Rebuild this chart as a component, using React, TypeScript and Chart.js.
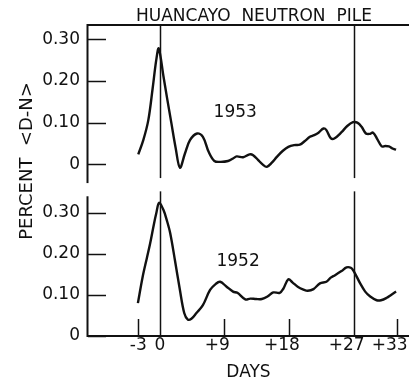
import React, { useEffect, useRef } from 'react';
import { Chart, registerables } from 'chart.js';

Chart.register(...registerables);

const TITLE = 'HUANCAYO  NEUTRON  PILE';
const Y_TITLE = 'PERCENT  <D-N>';
const X_TITLE = 'DAYS';

const panelLabels = ['1953', '1952'];

const days1953 = [-3, -2.3, -1.6, -1.0, -0.5, -0.15, 0.5, 1.0, 1.6, 2.2, 2.8, 3.5, 4.2, 5.2, 6.0, 6.8, 7.6, 8.5, 9.5, 10.2, 10.7, 11.6, 12.5, 13.0, 13.7, 14.3, 14.9, 15.6, 16.3, 17.1, 17.9, 18.7, 19.5, 20.2, 20.9, 21.5, 22.1, 22.8, 23.2, 23.8, 24.3, 25.3, 26.1, 26.9, 27.5, 28.1, 28.7, 29.2, 29.7, 30.3, 30.9, 31.4, 31.9, 32.4, 32.9];
const pct1953 = [0.024, 0.058, 0.106, 0.182, 0.25, 0.278, 0.212, 0.16, 0.1, 0.04, -0.008, 0.026, 0.058, 0.074, 0.066, 0.03, 0.008, 0.006, 0.008, 0.014, 0.019, 0.017, 0.024, 0.022, 0.01, 0.0, -0.006, 0.004, 0.018, 0.032, 0.042, 0.046, 0.047, 0.056, 0.066, 0.07, 0.076, 0.086, 0.082, 0.063, 0.062, 0.077, 0.092, 0.101, 0.1, 0.09, 0.074, 0.073, 0.076, 0.06, 0.043, 0.044, 0.043, 0.038, 0.035];

const days1952 = [-3.05, -2.4, -1.8, -1.35, -0.8, -0.5, -0.1, 0.5, 1.0, 1.45, 2.1, 2.8, 3.4, 3.9, 4.4, 5.1, 6.0, 7.0, 7.8, 8.4, 9.3, 10.2, 10.8, 11.9, 12.6, 13.4, 14.2, 15.0, 15.8, 16.7, 17.2, 17.9, 18.5, 19.2, 20.0, 20.6, 21.4, 22.3, 23.2, 23.8, 24.4, 25.3, 26.0, 26.6, 27.0, 27.9, 28.6, 29.3, 30.2, 30.8, 31.6, 32.2, 32.9];
const pct1952 = [0.08, 0.143, 0.19, 0.225, 0.274, 0.298, 0.324, 0.307, 0.28, 0.25, 0.185, 0.112, 0.056, 0.04, 0.042, 0.056, 0.075, 0.112, 0.127, 0.132, 0.12, 0.108, 0.105, 0.089, 0.091, 0.09, 0.09, 0.096, 0.106, 0.105, 0.115, 0.138, 0.13, 0.12, 0.113, 0.11, 0.114, 0.128, 0.132, 0.142, 0.148, 0.158, 0.167, 0.166, 0.158, 0.128, 0.108, 0.096, 0.087, 0.087, 0.093, 0.1, 0.108];

const xTickDays = [-3, 0, 9, 18, 27, 33];
const xTickLabels = ['-3', '0', '+9', '+18', '+27', '+33'];
const markerDays = [0, 27];
const yTickValues = [0, 0.1, 0.2, 0.3];
const yTickLabels = ['0', '0.10', '0.20', '0.30'];

const FONT = '"DejaVu Sans", sans-serif';
const INK = '#111';

function seg(ctx: CanvasRenderingContext2D, x1: number, y1: number, x2: number, y2: number, w: number) {
  ctx.lineWidth = w;
  ctx.beginPath();
  ctx.moveTo(x1, y1);
  ctx.lineTo(x2, y2);
  ctx.stroke();
}

const decor = {
  id: 'decor',
  beforeDatasetsDraw(chart: any) {
    const { ctx, chartArea: ca, scales } = chart;
    const x = scales.x;
    const yt = scales.yTop;
    const yb = scales.yBot;
    ctx.save();
    ctx.strokeStyle = INK;
    ctx.fillStyle = INK;
    // top frame line
    seg(ctx, ca.left - 1, ca.top + 1, ca.right, ca.top + 1, 2);
    // left axes
    seg(ctx, ca.left - 0.5, ca.top, ca.left - 0.5, yt.getPixelForValue(-0.045), 2);
    seg(ctx, ca.left - 0.5, yb.getPixelForValue(0.34), ca.left - 0.5, yb.getPixelForValue(0) + 1, 2);
    // bottom axis
    const yb0 = yb.getPixelForValue(0);
    seg(ctx, ca.left - 1, yb0, ca.right, yb0, 2);
    // marker lines
    markerDays.forEach((d) => {
      const px = Math.round(x.getPixelForValue(d)) + 0.5;
      seg(ctx, px, ca.top, px, yt.getPixelForValue(-0.033), 1.5);
      seg(ctx, px, yb.getPixelForValue(0.352), px, yb0, 1.5);
    });
    // y ticks inward
    [yt, yb].forEach((s) => {
      yTickValues.forEach((v) => {
        const py = Math.round(s.getPixelForValue(v)) + 0.5;
        seg(ctx, ca.left, py, ca.left + 18, py, 1.5);
      });
    });
    // x ticks inward (bottom panel)
    xTickDays.forEach((d) => {
      if (markerDays.includes(d)) return;
      const px = Math.round(x.getPixelForValue(d)) + 0.5;
      seg(ctx, px, yb0, px, yb0 - 17, 1.5);
    });
    // x tick labels
    ctx.font = '17px ' + FONT;
    ctx.textBaseline = 'alphabetic';
    xTickDays.forEach((d, i) => {
      const lab = xTickLabels[i];
      const px = x.getPixelForValue(d);
      if (lab.startsWith('+')) {
        const rest = lab.slice(1);
        const wr = ctx.measureText(rest).width;
        const wp = ctx.measureText('+').width;
        ctx.textAlign = 'left';
        ctx.fillText(lab, px - wr / 2 - wp, yb0 + 14);
      } else {
        ctx.textAlign = 'center';
        ctx.fillText(lab, px, yb0 + 14);
      }
    });
    // x title
    ctx.textAlign = 'center';
    ctx.fillText(X_TITLE, (ca.left + ca.right) / 2, yb0 + 41);
    // title
    ctx.textAlign = 'left';
    ctx.fillText(TITLE, 136, 20.7);
    // panel labels
    ctx.textAlign = 'center';
    ctx.fillText(panelLabels[0], x.getPixelForValue(10.5), yt.getPixelForValue(0.113));
    ctx.fillText(panelLabels[1], x.getPixelForValue(10.9), yb.getPixelForValue(0.17));
    // y title
    ctx.font = '18px ' + FONT;
    ctx.translate(25, 161);
    ctx.rotate(-Math.PI / 2);
    ctx.textAlign = 'center';
    ctx.fillText(Y_TITLE, 0, 6.5);
    ctx.restore();
  },
};

export default function App() {
  const ref = useRef<HTMLCanvasElement | null>(null);
  useEffect(() => {
    if (!ref.current) return;
    Chart.defaults.font.family = FONT;
    const yScale = (weight: number, min: number, max: number, stackWeight: number) => ({
      type: 'linear' as const,
      position: 'left' as const,
      stack: 'panels',
      stackWeight,
      weight,
      min,
      max,
      grid: { display: false, drawTicks: false },
      border: { display: false },
      afterBuildTicks: (s: any) => {
        s.ticks = yTickValues.map((v) => ({ value: v }));
      },
      afterFit: (s: any) => {
        s.width = 88;
      },
      ticks: {
        padding: 8,
        color: INK,
        font: { size: 17, family: FONT },
        callback: (_v: any, i: number) => yTickLabels[i],
      },
    });
    const chart = new Chart(ref.current, {
      type: 'line',
      data: {
        datasets: [
          {
            label: panelLabels[0],
            data: days1953.map((d, i) => ({ x: d, y: pct1953[i] })),
            yAxisID: 'yTop',
            xAxisID: 'x',
            borderColor: INK,
            borderWidth: 2.4,
            pointRadius: 0,
            tension: 0.35,
            fill: false,
          },
          {
            label: panelLabels[1],
            data: days1952.map((d, i) => ({ x: d, y: pct1952[i] })),
            yAxisID: 'yBot',
            xAxisID: 'x',
            borderColor: INK,
            borderWidth: 2.4,
            pointRadius: 0,
            tension: 0.35,
            fill: false,
          },
        ],
      },
      options: {
        responsive: false,
        animation: false,
        events: [],
        layout: { padding: { top: 24, bottom: 45, left: 0, right: 0 } },
        plugins: { legend: { display: false }, title: { display: false }, tooltip: { enabled: false } },
        scales: {
          x: { type: 'linear', min: -10, max: 34.7, display: false },
          yTop: yScale(1, -0.052, 0.3367, 162),
          yBot: yScale(0, 0, 0.365, 150),
        },
      },
      plugins: [decor],
    } as any);
    return () => chart.destroy();
  }, []);
  return (
    <div style={{ position: 'fixed', left: 0, top: 0, width: 409, height: 381, background: '#fff' }}>
      <canvas ref={ref} width={409} height={381} style={{ display: 'block' }} />
    </div>
  );
}
